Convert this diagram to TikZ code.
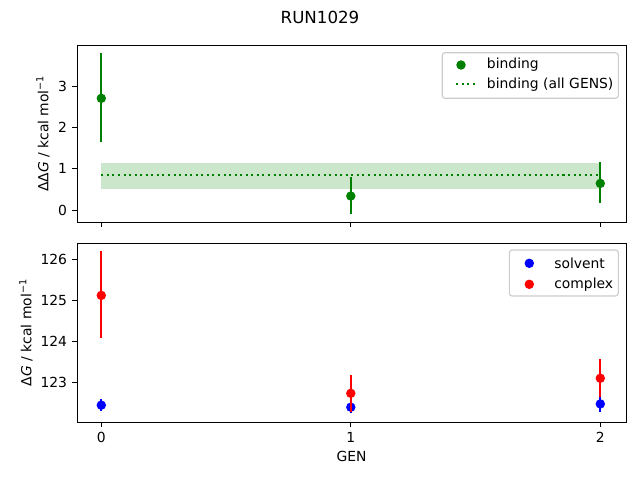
\documentclass[tikz,border=0pt]{standalone}
\usepackage{fontspec}
\setmainfont{DejaVu Sans}
\definecolor{mgreen}{RGB}{0,128,0}
\definecolor{mblue}{RGB}{0,0,255}
\definecolor{mred}{RGB}{255,0,0}
\definecolor{bandc}{RGB}{204,230,204}
\definecolor{legedge}{RGB}{204,204,204}
\begin{document}
\begin{tikzpicture}[x=0.72pt,y=-0.72pt,
  spine/.style={line width=0.7pt},
  tickmark/.style={line width=0.7pt},
  lbl/.style={font=\fontsize{10}{12}\selectfont, inner sep=0pt},
  ebar/.style={line width=1.5pt},
  legbox/.style={draw=legedge, fill=white, line width=0.8pt, rounded corners=2pt},
  dotline/.style={mgreen, line width=1.5pt, dash pattern=on 1.5pt off 2.5pt}]
\useasboundingbox (0,0) rectangle (640,480);
\def\mr{3.4pt}

% title
\node[font=\fontsize{12}{14}\selectfont, inner sep=0pt] (title) at (320,17) {RUN1029};

% ---------- top panel ----------
\begin{scope}[shift={(101.3,210.3)}, x=179.64pt, y=29.808pt]
  \fill[bandc] (0,0.52) rectangle (2,1.15);
  \draw[dotline] (0,0.85) -- (2,0.85);
  \draw[ebar,mgreen] (0,1.64) -- (0,3.79);
  \fill[mgreen] (0,2.705) circle (\mr);
  \draw[ebar,mgreen] (1,-0.10) -- (1,0.81);
  \fill[mgreen] (1,0.345) circle (\mr);
  \draw[ebar,mgreen] (2,0.17) -- (2,1.17);
  \fill[mgreen] (2,0.65) circle (\mr);
\end{scope}
\draw[spine] (77,45) rectangle (626,222);
% y ticks top
\foreach \v/\py in {0/210.3,1/168.9,2/127.5,3/86.1}{
  \draw[tickmark] (77,\py) -- (72.1,\py);
  \node[lbl, anchor=east] at (67.3,\py) {\v};
}
% x ticks top
\foreach \px in {101.3,350.8,600.3}{
  \draw[tickmark] (\px,222) -- (\px,226.9);
}
\node[lbl, rotate=90] (ylab1) at (43,133.5) {ΔΔ\textit{G} / kcal mol\textsuperscript{−1}};

% legend top
\draw[legbox] (442.3,52.7) rectangle (618.3,98.3);
\fill[mgreen] (461,65) circle (\mr);
\node[lbl, anchor=west] (lb1) at (486.7,65) {binding};
\draw[dotline] (456,84.3) -- (475,84.3);
\node[lbl, anchor=west] (lb2) at (486.7,84.3) {binding (all GENS)};

% ---------- bottom panel ----------
\begin{scope}[shift={(101.3,382.3)}, x=179.64pt, y=29.376pt]
  % solvent
  \draw[ebar,mblue] (0,-0.71) -- (0,-0.41);
  \fill[mblue] (0,-0.56) circle (\mr);
  \draw[ebar,mblue] (1,-0.76) -- (1,-0.46);
  \fill[mblue] (1,-0.61) circle (\mr);
  \draw[ebar,mblue] (2,-0.72) -- (2,-0.34);
  \fill[mblue] (2,-0.53) circle (\mr);
  % complex
  \draw[ebar,mred] (0,1.09) -- (0,3.23);
  \fill[mred] (0,2.13) circle (\mr);
  \draw[ebar,mred] (1,-0.72) -- (1,0.18);
  \fill[mred] (1,-0.27) circle (\mr);
  \draw[ebar,mred] (2,-0.37) -- (2,0.57);
  \fill[mred] (2,0.10) circle (\mr);
\end{scope}
\draw[spine] (77,243) rectangle (626,422);
\foreach \v/\py in {123/382.3,124/341.5,125/300.7,126/259.9}{
  \draw[tickmark] (77,\py) -- (72.1,\py);
  \node[lbl, anchor=east] at (67.3,\py) {\v};
}
\foreach \v/\px in {0/101.3,1/350.8,2/600.3}{
  \draw[tickmark] (\px,422) -- (\px,426.9);
  \node[lbl, anchor=north] at (\px,432) {\v};
}
\node[lbl, rotate=90] (ylab2) at (26,332.5) {Δ\textit{G} / kcal mol\textsuperscript{−1}};
\node[lbl] (xlab) at (351.5,456) {GEN};

% legend bottom
\draw[legbox] (509.3,250) rectangle (618.3,296);
\fill[mblue] (529.3,263.3) circle (\mr);
\node[lbl, anchor=west] (ls1) at (554,263.3) {solvent};
\fill[mred] (529.3,284.3) circle (\mr);
\node[lbl, anchor=west] (ls2) at (554,284.3) {complex};
\end{tikzpicture}
\end{document}
